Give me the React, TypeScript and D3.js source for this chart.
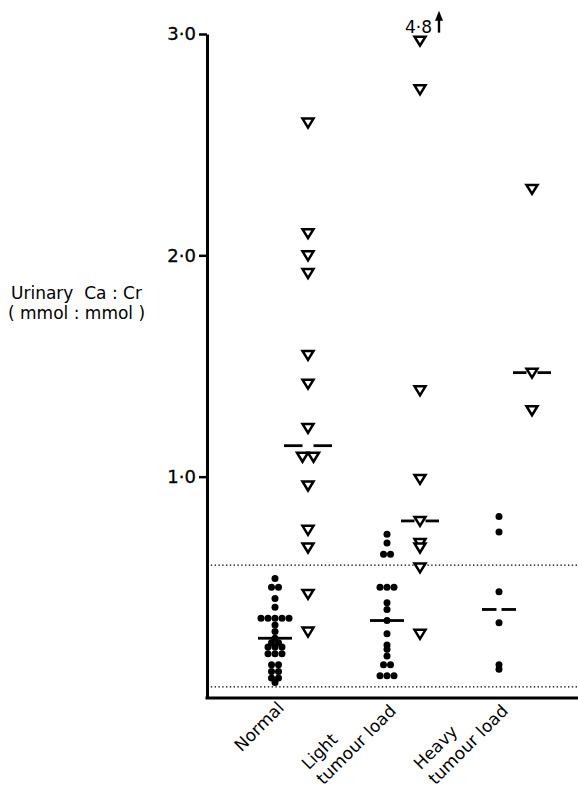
import React, { useRef, useEffect } from 'react';
import * as d3 from 'd3';

// groups along the x axis and their (rotated) tick labels
const groups = ['Normal', 'Light', 'Heavy'];
const groupLabels = [['Normal'], ['Light', 'tumour load'], ['Heavy', 'tumour load']];

// filled dots
const normalDots = [
  0.54, 0.5, 0.5, 0.45, 0.41, 0.36, 0.36, 0.36, 0.36, 0.36, 0.33, 0.3, 0.27, 0.25, 0.25,
  0.23, 0.23, 0.23, 0.2, 0.2, 0.2, 0.15, 0.15, 0.12, 0.12, 0.09, 0.09, 0.07,
];
const lightDots = [
  0.74, 0.7, 0.65, 0.65, 0.5, 0.5, 0.5, 0.43, 0.4, 0.35, 0.29, 0.24, 0.22, 0.19, 0.15,
  0.15, 0.1, 0.1, 0.1,
];
const heavyDots = [0.82, 0.75, 0.48, 0.34, 0.15, 0.13];

// open triangles
const normalTri = [2.6, 2.1, 2.0, 1.92, 1.55, 1.42, 1.22, 1.09, 1.09, 0.96, 0.76, 0.68, 0.47, 0.3];
const lightTri = [4.8, 2.75, 1.39, 0.99, 0.8, 0.7, 0.68, 0.59, 0.29];
const heavyTri = [2.3, 1.47, 1.3];

const dotMedians = [0.27, 0.35, 0.4];
const triMedians = [1.14, 0.8, 1.47];

const refLines = [0.6, 0.05];
const yTicks = [1, 2, 3];
const yMax = 3;
const offScaleCap = 2.97;

const W = 578;
const H = 788;
const axisX = 207;
const font = 'DejaVu Sans';

const dotSeries = [normalDots, lightDots, heavyDots];
const triSeries = [normalTri, lightTri, heavyTri];

const fmt = (v: number) => d3.format('.1f')(v).replace('.', '\u00b7');

// side-by-side placement for equal values
const spread = (vals: number[], step: number) => {
  const counts = d3.rollup(vals, (v) => v.length, (d) => d);
  const used = new Map<number, number>();
  return vals.map((v) => {
    const n = counts.get(v) as number;
    const i = used.get(v) ?? 0;
    used.set(v, i + 1);
    return { v, dx: (i - (n - 1) / 2) * step };
  });
};

const textWidth = (s: string, size: number) => {
  const ctx = document.createElement('canvas').getContext('2d');
  if (!ctx) return s.length * size * 0.6;
  ctx.font = `${size}px "${font}"`;
  return ctx.measureText(s).width;
};

const App = () => {
  const axisRef = useRef(null);

  const y = d3.scaleLinear().domain([0, yMax]).range([698, 34]);
  const x = d3.scalePoint().domain(groups).range([275, 499]);
  const triOffset = 33;

  useEffect(() => {
    const g = d3.select(axisRef.current);
    const yAxis = d3
      .axisLeft(y)
      .tickValues(yTicks)
      .tickFormat((d) => fmt(d as number))
      .tickSize(8)
      .tickSizeOuter(0)
      .tickPadding(3);
    // @ts-ignore
    g.call(yAxis);
    g.attr('font-size', 18).attr('font-family', font);
    g.select('.domain').attr('stroke-width', 3);
    g.selectAll('.tick line').attr('stroke-width', 2.5);
    g.selectAll('.tick text')
      .attr('font-family', font)
      .attr('font-size', 18)
      .attr('stroke', '#000')
      .attr('stroke-width', 0.3)
      .attr('fill', '#000');
  }, []);

  const tri = (cx: number, cy: number) =>
    `M${cx - 5.5},${cy - 4}L${cx + 5.5},${cy - 4}L${cx},${cy + 5}Z`;

  const median = (cx: number, v: number, half: number, gap: number, key: string) => (
    <g key={key} stroke="#000" strokeWidth={2.8}>
      <line x1={cx - half} x2={cx - gap / 2} y1={y(v)} y2={y(v)} />
      <line x1={cx + gap / 2} x2={cx + half} y1={y(v)} y2={y(v)} />
    </g>
  );

  const labelSize = 17;
  const lineH = 21;

  return (
    <svg
      width={W}
      height={H}
      style={{ position: 'absolute', left: 0, top: 0, background: '#fff' }}
    >
      <g ref={axisRef} transform={`translate(${axisX},0)`} />
      <line x1={axisX - 1.5} x2={W} y1={y(0)} y2={y(0)} stroke="#000" strokeWidth={3} />

      {refLines.map((v) => (
        <line
          key={v}
          x1={axisX}
          x2={W}
          y1={y(v)}
          y2={y(v)}
          stroke="#000"
          strokeWidth={1.2}
          strokeDasharray="1.4 2.4"
        />
      ))}

      {/* y axis title */}
      <g fontFamily={font} fontSize={17} fill="#000">
        <text x={11} y={299} xmlSpace="preserve">
          {'Urinary  Ca : Cr'}
        </text>
        <text x={8} y={319} xmlSpace="preserve">
          {'( mmol : mmol )'}
        </text>
      </g>

      {/* dots */}
      {dotSeries.map((vals, gi) =>
        spread(vals, 7).map((p, i) => (
          <circle
            key={`d${gi}-${i}`}
            cx={(x(groups[gi]) as number) + p.dx}
            cy={y(p.v)}
            r={3.5}
            fill="#000"
          />
        ))
      )}

      {/* triangles */}
      {triSeries.map((vals, gi) =>
        spread(vals, 11).map((p, i) => (
          <path
            key={`t${gi}-${i}`}
            d={tri((x(groups[gi]) as number) + triOffset + p.dx, y(Math.min(p.v, offScaleCap)))}
            fill="#fff"
            stroke="#000"
            strokeWidth={2.5}
            strokeLinejoin="miter"
          />
        ))
      )}

      {/* medians */}
      {dotMedians.map((v, gi) => median(x(groups[gi]) as number, v, 17, 5, `md${gi}`))}
      {triMedians.map((v, gi) =>
        median((x(groups[gi]) as number) + triOffset, v, gi === 0 ? 24 : 19, 11, `mt${gi}`)
      )}

      {/* off-scale value */}
      {triSeries.map((vals, gi) =>
        vals
          .filter((v) => v > yMax)
          .map((v) => {
            const cx = (x(groups[gi]) as number) + triOffset;
            const cy = y(offScaleCap);
            return (
              <g key={`off${gi}`}>
                <text
                  x={cx + 12}
                  y={cy - 8}
                  textAnchor="end"
                  fontFamily={font}
                  fontSize={17}
                  fill="#000"
                >
                  {fmt(v)}
                </text>
                <line x1={cx + 19} x2={cx + 19} y1={cy - 8} y2={cy - 22} stroke="#000" strokeWidth={2.4} />
                <path d={`M${cx + 15},${cy - 20}L${cx + 23},${cy - 20}L${cx + 19},${cy - 30}Z`} fill="#000" />
              </g>
            );
          })
      )}

      {/* x labels */}
      {groupLabels.map((lines, gi) => {
        const cx = x(groups[gi]) as number;
        const last = lines[lines.length - 1];
        const lw = textWidth(last, labelSize);
        const px = lines.length === 1 ? cx + 10 : cx + 10;
        const py = lines.length === 1 ? 709 : 712;
        return (
          <g
            key={`xl${gi}`}
            transform={`translate(${px},${py}) rotate(-45)`}
            fontFamily={font}
            fontSize={labelSize}
            fill="#000"
          >
            {lines.map((s, li) => (
              <text
                key={li}
                x={-lw}
                y={(li - (lines.length - 1)) * lineH}
                textAnchor="start"
              >
                {s}
              </text>
            ))}
          </g>
        );
      })}
    </svg>
  );
};

export default App;
